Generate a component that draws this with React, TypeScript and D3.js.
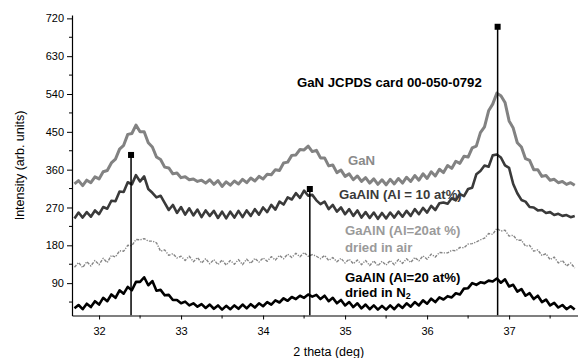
import React, { useEffect, useRef } from "react";
import * as d3 from "d3";

// 2θ sampling of the scans (deg)
const startDeg = 31.7;
const stepDeg = 0.05;

const ganValues = [
  326, 334, 322, 335, 329, 343, 338, 355, 358, 376,
  385, 409, 418, 444, 446, 466, 450, 450, 424, 414,
  390, 384, 366, 364, 350, 352, 341, 343, 336, 338,
  332, 335, 328, 336, 325, 334, 320, 331, 323, 333,
  326, 337, 329, 340, 333, 344, 338, 349, 348, 360,
  358, 376, 378, 394, 395, 408, 407, 416, 403, 406,
  388, 388, 369, 371, 353, 359, 344, 350, 336, 345,
  332, 341, 328, 338, 325, 336, 324, 337, 326, 339,
  328, 342, 332, 346, 335, 350, 339, 355, 345, 361,
  353, 370, 363, 380, 375, 392, 390, 412, 416, 448,
  462, 500, 516, 542, 536, 520, 476, 459, 424, 414,
  386, 382, 360, 360, 344, 346, 335, 337, 329, 332,
  325, 329, 323,
];

const al10Values = [
  244, 258, 246, 259, 248, 263, 254, 271, 267, 286,
  285, 308, 307, 330, 325, 347, 332, 344, 314, 305,
  294, 298, 281, 264, 276, 257, 271, 253, 268, 251,
  265, 247, 263, 250, 262, 245, 260, 244, 260, 246,
  262, 247, 263, 250, 266, 253, 270, 259, 276, 265,
  284, 277, 294, 289, 304, 293, 310, 298, 300, 287,
  278, 284, 266, 276, 260, 270, 254, 266, 250, 263,
  246, 259, 245, 258, 243, 257, 244, 258, 246, 260,
  248, 262, 250, 266, 254, 269, 258, 274, 264, 280,
  282, 279, 292, 287, 302, 297, 314, 317, 349, 357,
  370, 367, 394, 396, 389, 370, 364, 326, 304, 288,
  284, 271, 270, 263, 264, 257, 259, 252, 255, 250,
  252, 247, 250,
];

const al20AirValues = [
  128, 139, 127, 141, 131, 144, 134, 149, 139, 156,
  152, 167, 166, 180, 179, 194, 193, 196, 190, 190,
  186, 166, 169, 156, 160, 150, 154, 144, 154, 141,
  151, 138, 148, 136, 146, 134, 145, 133, 144, 135,
  146, 134, 147, 137, 149, 140, 150, 142, 153, 145,
  156, 148, 159, 151, 161, 153, 163, 154, 158, 154,
  148, 156, 144, 151, 141, 149, 138, 147, 136, 145,
  134, 144, 132, 143, 131, 142, 133, 144, 134, 146,
  137, 148, 139, 151, 143, 155, 147, 159, 152, 163,
  162, 162, 168, 167, 175, 174, 183, 184, 188, 193,
  197, 208, 206, 220, 214, 216, 202, 204, 192, 192,
  178, 180, 166, 169, 156, 160, 146, 152, 138, 144,
  131, 138, 126,
];

const al20N2Values = [
  30, 38, 28, 41, 33, 47, 39, 55, 47, 63,
  55, 73, 65, 81, 73, 93, 93, 104, 85, 95,
  72, 74, 61, 62, 50, 50, 42, 46, 37, 42,
  34, 40, 31, 39, 29, 37, 27, 36, 28, 37,
  29, 39, 30, 40, 32, 42, 35, 45, 39, 49,
  44, 54, 48, 57, 52, 60, 55, 63, 58, 62,
  52, 60, 47, 55, 42, 50, 37, 45, 33, 42,
  30, 39, 28, 37, 27, 36, 27, 37, 28, 39,
  31, 42, 34, 45, 37, 49, 41, 53, 45, 56,
  51, 59, 56, 66, 63, 77, 78, 90, 86, 92,
  90, 96, 94, 101, 91, 99, 82, 86, 70, 76,
  60, 66, 52, 60, 45, 51, 37, 43, 32, 38,
  28, 35, 27,
];

// GaN JCPDS card 00-050-0792 reference reflections
const refPositions = [32.39, 34.57, 36.86];
const refIntensities = [395, 314, 700];

const xTicks = [32, 33, 34, 35, 36, 37];
const yTicks = [90, 180, 270, 360, 450, 540, 630, 720];

const series = [
  { name: "GaN", values: ganValues, color: "#828282", width: 3, dash: null },
  { name: "GaAlN (Al = 10 at%)", values: al10Values, color: "#3a3a3a", width: 2.6, dash: null },
  { name: "GaAlN (Al=20at %) dried in air", values: al20AirValues, color: "#858585", width: 1.4, dash: "3,1.3,1.2,1.3" },
  { name: "GaAlN (Al=20 at%) dried in N2", values: al20N2Values, color: "#000000", width: 2.6, dash: null },
];

const W = 578;
const H = 358;
const margin = { left: 72, right: 0, top: 15, bottom: 42.5 };

const App = () => {
  const ref = useRef<SVGSVGElement | null>(null);

  useEffect(() => {
    const svg = d3.select(ref.current);
    svg.selectAll("*").remove();

    const x = d3
      .scaleLinear()
      .domain([31.67, 37.84])
      .range([margin.left, W - margin.right]);
    const y = d3
      .scaleLinear()
      .domain([13, 728])
      .range([H - margin.bottom, margin.top]);

    const font = "Arial, 'Liberation Sans', sans-serif";

    svg
      .append("clipPath")
      .attr("id", "plot-clip")
      .append("rect")
      .attr("x", margin.left)
      .attr("y", margin.top - 10)
      .attr("width", W - margin.left - margin.right)
      .attr("height", H - margin.bottom - margin.top + 10);

    const plot = svg.append("g").attr("clip-path", "url(#plot-clip)");

    const line = d3
      .line<number>()
      .x((_, i) => x(startDeg + i * stepDeg))
      .y((d) => y(d));

    series.forEach((s) => {
      plot
        .append("path")
        .datum(s.values)
        .attr("fill", "none")
        .attr("stroke", s.color)
        .attr("stroke-width", s.width)
        .attr("stroke-linejoin", "round")
        .attr("stroke-dasharray", s.dash)
        .attr("d", line);
    });

    // reference sticks
    const refs = plot
      .selectAll("g.ref")
      .data(refPositions.map((p, i) => ({ p, v: refIntensities[i] })))
      .join("g")
      .attr("class", "ref");
    refs
      .append("line")
      .attr("x1", (d) => x(d.p))
      .attr("x2", (d) => x(d.p))
      .attr("y1", (d) => y(d.v))
      .attr("y2", y(13))
      .attr("stroke", "#000")
      .attr("stroke-width", 1.5);
    refs
      .append("rect")
      .attr("x", (d) => x(d.p) - 3)
      .attr("y", (d) => y(d.v) - 3)
      .attr("width", 6)
      .attr("height", 6)
      .attr("fill", "#000");

    // axes
    const xAxis = svg
      .append("g")
      .attr("transform", `translate(0,${H - margin.bottom})`)
      .call(
        d3.axisBottom(x).tickValues(xTicks).tickFormat(d3.format("d")).tickSize(4).tickSizeOuter(0)
      );
    xAxis
      .append("g")
      .selectAll("line")
      .data(xTicks.map((t) => t + 0.5))
      .join("line")
      .attr("x1", (d) => x(d))
      .attr("x2", (d) => x(d))
      .attr("y2", 3)
      .attr("stroke", "#000");

    const yAxis = svg
      .append("g")
      .attr("transform", `translate(${margin.left},0)`)
      .call(d3.axisLeft(y).tickValues(yTicks).tickSize(5).tickSizeOuter(0));
    yAxis
      .append("g")
      .selectAll("line")
      .data(yTicks.map((t) => t - 45).filter((t) => t > 13 && t < 728))
      .join("line")
      .attr("y1", (d) => y(d))
      .attr("y2", (d) => y(d))
      .attr("x2", -3)
      .attr("stroke", "#000");

    [xAxis, yAxis].forEach((a) => {
      a.select(".domain").attr("stroke", "#000").attr("stroke-width", 1.2);
      a.selectAll(".tick line").attr("stroke", "#000");
      a.selectAll("text").attr("font-family", font).attr("font-size", 11).attr("fill", "#000");
    });
    xAxis.selectAll(".tick text").attr("dy", "1.15em");

    svg
      .append("text")
      .attr("x", x(34.8))
      .attr("y", 356)
      .attr("text-anchor", "middle")
      .attr("font-family", font)
      .attr("font-size", 12.5)
      .text("2 theta (deg)");

    svg
      .append("text")
      .attr("transform", `translate(24,${y(370)}) rotate(-90)`)
      .attr("text-anchor", "middle")
      .attr("font-family", font)
      .attr("font-size", 12.5)
      .text("Intensity (arb. units)");

    // annotations
    const labels = [
      { text: "GaN JCPDS card 00-050-0792", x: 297, y: 87, color: "#000" },
      { text: "GaN", x: 348, y: 165, color: "#8a8a8a" },
      { text: "GaAlN (Al = 10 at%)", x: 339, y: 199, color: "#3a3a3a" },
      { text: "GaAlN (Al=20at %)", x: 345, y: 235, color: "#9a9a9a" },
      { text: "dried in air", x: 345, y: 252, color: "#9a9a9a" },
      { text: "GaAlN (Al=20 at%)", x: 345, y: 282, color: "#000" },
    ];
    svg
      .append("g")
      .selectAll("text")
      .data(labels)
      .join("text")
      .attr("x", (d) => d.x)
      .attr("y", (d) => d.y)
      .attr("fill", (d) => d.color)
      .attr("font-family", font)
      .attr("font-size", 13.2)
      .attr("font-weight", "bold")
      .text((d) => d.text);

    const n2 = svg
      .append("text")
      .attr("x", 345)
      .attr("y", 297)
      .attr("fill", "#000")
      .attr("font-family", font)
      .attr("font-size", 13.2)
      .attr("font-weight", "bold")
      .text("dried in N");
    n2.append("tspan").attr("font-size", 9).attr("dy", 2).text("2");
  }, []);

  return (
    <svg
      ref={ref}
      width={W}
      height={H}
      style={{ position: "absolute", left: 0, top: 0, background: "#fff" }}
    />
  );
};

export default App;
